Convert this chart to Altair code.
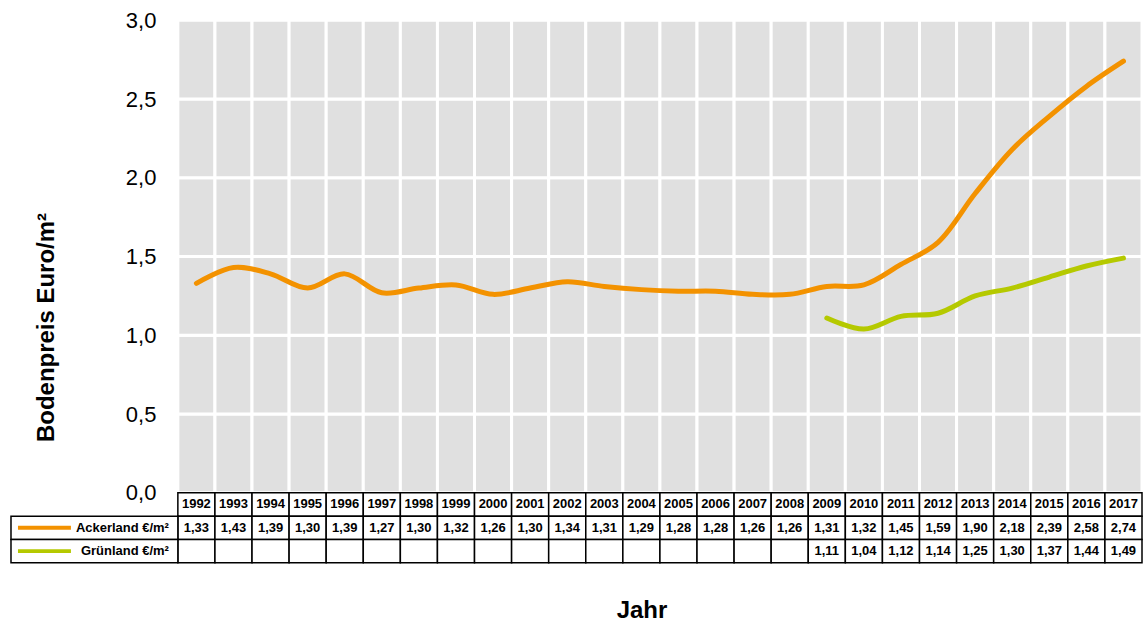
import altair as alt
import pandas as pd

# Average land prices (Euro per square metre)
YEARS = [1992, 1993, 1994, 1995, 1996, 1997, 1998, 1999, 2000, 2001, 2002, 2003, 2004,
         2005, 2006, 2007, 2008, 2009, 2010, 2011, 2012, 2013, 2014, 2015, 2016, 2017]
ACKERLAND = [1.33, 1.43, 1.39, 1.30, 1.39, 1.27, 1.30, 1.32, 1.26, 1.30, 1.34, 1.31, 1.29,
             1.28, 1.28, 1.26, 1.26, 1.31, 1.32, 1.45, 1.59, 1.90, 2.18, 2.39, 2.58, 2.74]
GRUENLAND = [None, None, None, None, None, None, None, None, None, None, None, None, None,
             None, None, None, None, 1.11, 1.04, 1.12, 1.14, 1.25, 1.30, 1.37, 1.44, 1.49]
SERIES = ["Ackerland €/m²", "Grünland €/m²"]
COLORS = ["#F39200", "#B5C900"]
Y_TICKS = [0.0, 0.5, 1.0, 1.5, 2.0, 2.5, 3.0]

FONT = "Liberation Sans"
W = 1132            # full width: legend column + 26 year columns
X_DOMAIN = [1987.0, 2017.5]   # 1987..1991.5 is the row-header column
HEADER_PX = W * (1991.5 - 1987.0) / (2017.5 - 1987.0)

x_scale = alt.Scale(domain=X_DOMAIN, nice=False, zero=False)
y_scale = alt.Scale(domain=[0, 3], nice=False, zero=False)
color_scale = alt.Scale(domain=SERIES, range=COLORS)

# ---- plot area -------------------------------------------------------
cells = pd.DataFrame(
    [{"x0": y - 0.5, "x1": y + 0.5, "lo": lo, "hi": hi}
     for y in YEARS for lo, hi in zip(Y_TICKS[:-1], Y_TICKS[1:])]
)
grid = alt.Chart(cells).mark_rect(fill="#E0E0E0", stroke="white", strokeWidth=3).encode(
    x=alt.X("x0:Q", scale=x_scale, axis=None),
    x2="x1:Q",
    y=alt.Y("lo:Q", scale=y_scale, title="Bodenpreis Euro/m²",
            axis=alt.Axis(
                values=Y_TICKS, offset=-HEADER_PX, ticks=False, domain=False, grid=False,
                labelExpr="replace(format(datum.value, '.1f'), '.', ',')",
                labelFontSize=22, labelColor="black", labelPadding=22, labelFont=FONT,
                titleFontSize=24, titleFont=FONT,
                titleFontWeight="bold", titleColor="black", titleAngle=270,
                titleAlign="center", titleBaseline="alphabetic",
                titleX=-124, titleY=307,
            )),
    y2="hi:Q",
)

long = pd.DataFrame(
    [{"year": y, "value": v, "series": SERIES[0]} for y, v in zip(YEARS, ACKERLAND)]
    + [{"year": y, "value": v, "series": SERIES[1]} for y, v in zip(YEARS, GRUENLAND)]
)
lines = alt.Chart(long).mark_line(
    strokeWidth=5, interpolate="catmull-rom", strokeCap="round"
).encode(
    x=alt.X("year:Q", scale=x_scale),
    y=alt.Y("value:Q", scale=y_scale),
    color=alt.Color("series:N", scale=color_scale, legend=None),
    detail="series:N",
)

top = alt.layer(grid, lines).properties(width=W, height=473)

# ---- data table ------------------------------------------------------
ROWS = ["Jahr"] + SERIES
row_scale = alt.Scale(domain=ROWS, paddingInner=0, paddingOuter=0)


def fmt(v):
    return f"{v:.2f}".replace(".", ",")


tcells = pd.DataFrame(
    [{"x0": y - 0.5, "x1": y + 0.5, "row": r} for y in YEARS for r in ROWS]
)
hcells = pd.DataFrame([{"x0": X_DOMAIN[0], "x1": 1991.5, "row": r} for r in SERIES])
texts = pd.DataFrame(
    [{"year": y, "row": "Jahr", "label": str(y)} for y in YEARS]
    + [{"year": y, "row": SERIES[0], "label": fmt(v)} for y, v in zip(YEARS, ACKERLAND)]
    + [{"year": y, "row": SERIES[1], "label": fmt(v)} for y, v in zip(YEARS, GRUENLAND)
       if v is not None]
)
heads = pd.DataFrame([{"x": 1991.5, "row": r} for r in SERIES])

y_row = alt.Y("row:N", scale=row_scale, axis=None)

cell_rects = alt.Chart(tcells).mark_rect(fill="white", stroke="black", strokeWidth=1.5).encode(
    x=alt.X("x0:Q", scale=x_scale, title="Jahr",
            axis=alt.Axis(labels=False, ticks=False, domain=False, grid=False,
                          titleFont=FONT, titleFontSize=24,
                          titleFontWeight="bold", titleColor="black",
                          titleAlign="center", titleBaseline="alphabetic",
                          titleX=631, titleY=55)),
    x2="x1:Q",
    y=y_row,
)
head_rects = alt.Chart(hcells).mark_rect(fill="white", stroke="black", strokeWidth=1.5).encode(
    x=alt.X("x0:Q", scale=x_scale), x2="x1:Q", y=y_row,
)
cell_text = alt.Chart(texts).mark_text(
    font=FONT, fontSize=13, fontWeight="bold", color="black", baseline="middle"
).encode(
    x=alt.X("year:Q", scale=x_scale), y=y_row, text="label:N",
)
head_text = alt.Chart(heads).mark_text(
    font=FONT, fontSize=13, fontWeight="bold", color="black", align="right",
    baseline="middle", dx=-9,
).encode(
    x=alt.X("x:Q", scale=x_scale), y=y_row, text="row:N",
)
swatch = alt.Chart(heads).mark_rule(strokeWidth=4).encode(
    x=alt.value(7), x2=alt.value(60), y=y_row,
    color=alt.Color("row:N", scale=color_scale, legend=None),
)

table = alt.layer(cell_rects, head_rects, cell_text, head_text, swatch).properties(
    width=W, height=70
)

chart = alt.vconcat(top, table, spacing=0, bounds="flush").properties(
    padding={"left": 10, "top": 9, "right": 0, "bottom": 0},
    background="white",
).configure_view(stroke=None)

chart.save("out.html", embed_options={"renderer": "svg", "actions": False})
